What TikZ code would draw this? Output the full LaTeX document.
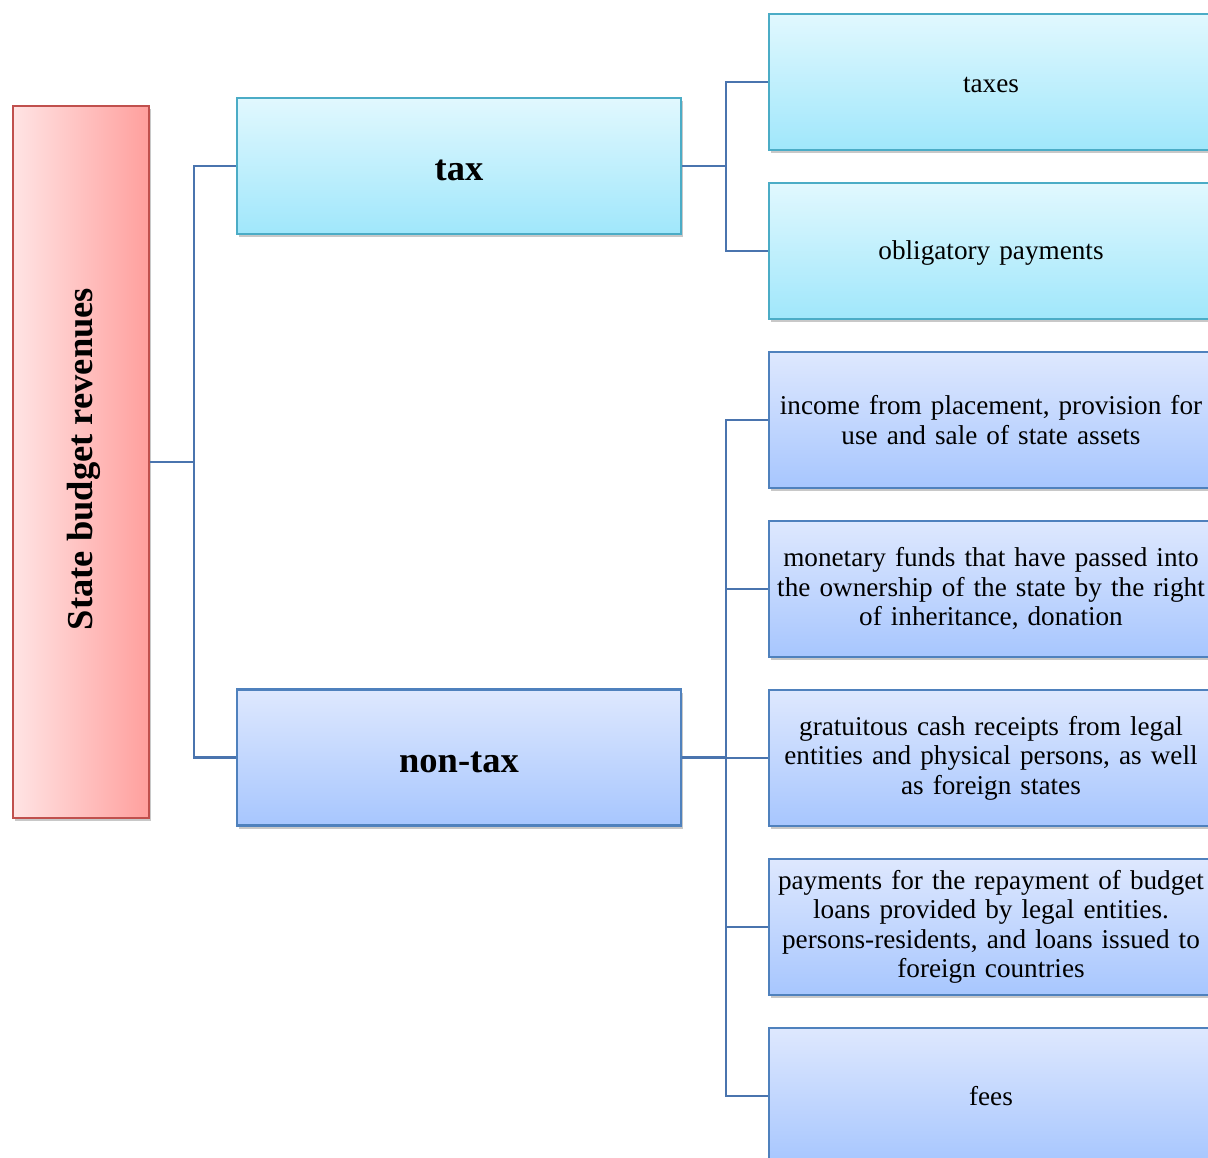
\documentclass[tikz,border=0pt]{standalone}
\usepackage{fontspec}
\setmainfont{Liberation Serif}
\usetikzlibrary{shadows}
\definecolor{redL}{HTML}{FFE4E4}
\definecolor{redR}{HTML}{FF9F9D}
\definecolor{redB}{HTML}{C0504D}
\definecolor{cyanT}{HTML}{E1F8FE}
\definecolor{cyanBot}{HTML}{A0E7FB}
\definecolor{cyanB}{HTML}{4BACC6}
\definecolor{blueT}{HTML}{DEE8FE}
\definecolor{blueBot}{HTML}{A7C6FE}
\definecolor{blueB}{HTML}{4F81BD}
\definecolor{lineC}{HTML}{4A74AE}
\begin{document}
\begin{tikzpicture}[x=1pt,y=-1pt,
  box/.style={rectangle, minimum width=444pt, minimum height=136pt, inner sep=0pt, line width=2.3pt,
    drop shadow={shadow xshift=2pt, shadow yshift=-3pt, opacity=0.3, fill=black!70}},
  taxbox/.style={box, draw=cyanB, top color=cyanT, bottom color=cyanBot},
  ntbox/.style={box, draw=blueB, top color=blueT, bottom color=blueBot},
  conn/.style={draw=lineC, line width=2.2pt},
  txt/.style={font=\fontsize{27.2}{29.5}\selectfont, align=center, text width=440pt},
  big/.style={font=\fontsize{36.5}{40}\selectfont\bfseries},
  lowered/.style={text height=30pt, text depth=0pt}
]
\useasboundingbox (0,0) rectangle (1208,1158);
\clip (0,0) rectangle (1208,1158);
\fill[white] (0,0) rectangle (1208,1158);

\node[rectangle, minimum width=136pt, minimum height=712pt, inner sep=0pt, line width=2.3pt,
  draw=redB, left color=redL, right color=redR,
  drop shadow={shadow xshift=2pt, shadow yshift=-3pt, opacity=0.3, fill=black!70},
  label={[rotate=90, big, xshift=3pt, yshift=-3pt]center:State budget revenues}] (root) at (81,462) {};

\node[taxbox, big, lowered] (tax) at (459,166) {tax};
\node[ntbox, big, lowered] (nontax) at (459,757.5) {non-tax};

\node[taxbox, txt, text height=21pt, text depth=0pt] (taxes) at (991,82) {taxes};
\node[taxbox, txt, text height=22.6pt] (oblig) at (991,251) {obligatory payments};
\node[ntbox, txt] (income) at (991,420) {income from placement, provision for\\ use and sale of state assets};
\node[ntbox, txt] (monetary) at (991,589) {monetary funds that have passed into\\ the ownership of the state by the right\\ of inheritance, donation};
\node[ntbox, txt] (gratuitous) at (991,758) {gratuitous cash receipts from legal\\ entities and physical persons, as well\\ as foreign states};
\node[ntbox, txt] (payments) at (991,927) {payments for the repayment of budget\\ loans provided by legal entities.\\ persons-residents, and loans issued to\\ foreign countries};
\node[ntbox, txt] (fees) at (991,1096) {fees};

\draw[conn] (root.east) -- ++(44,0) coordinate (jr);
\draw[conn] (jr) |- (tax.west);
\draw[conn] (jr) |- (nontax.west);

\draw[conn] (tax.east) -- ++(44,0) coordinate (jt);
\draw[conn] (jt) |- (taxes.west);
\draw[conn] (jt) |- (oblig.west);

\draw[conn] (nontax.east) -- ++(44,0) coordinate (jn);
\draw[conn] (jn) |- (income.west);
\draw[conn] (jn) |- (monetary.west);
\draw[conn] (jn) |- (gratuitous.west);
\draw[conn] (jn) |- (payments.west);
\draw[conn] (jn) |- (fees.west);
\end{tikzpicture}
\end{document}
